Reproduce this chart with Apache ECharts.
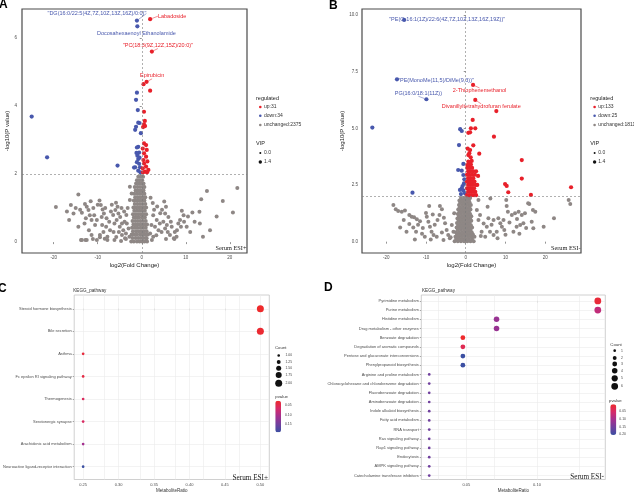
<!DOCTYPE html>
<html><head><meta charset="utf-8">
<script src="https://cdn.jsdelivr.net/npm/echarts@6/dist/echarts.min.js"></script>
<style>html,body{margin:0;padding:0;background:#fff}#c{width:634px;height:494px}</style>
</head><body><div id="c"></div><script>
// ---------------- DATA ----------------
const volTicksX = [-20, -10, 0, 10, 20];
const aTicksY = [0, 2, 4, 6];
const bTicksY = [0, 2.5, 5, 7.5, 10];
const aLegend = ['up:31', 'down:34', 'unchanged:2375'];
const bLegend = ['up:133', 'down:25', 'unchanged:1811'];
const vipLegend = ['0.0', '1.4'];

// Panel A: unchanged core column (rows: y, list of x)
const aCoreRows = [
 [0.02,[-2.4,-1.8,-1.1,-0.5,0.1,0.6,1.2]],[0.12,[-2.1,-1.4,-0.8,-0.2,0.4,1.0]],
 [0.22,[-2.3,-1.7,-1.1,-0.4,0.2,0.8,1.4]],[0.32,[-2.0,-1.3,-0.7,-0.1,0.5,1.1]],
 [0.42,[-2.2,-1.6,-1.0,-0.3,0.3,0.9]],[0.52,[-1.9,-1.2,-0.6,0.0,0.6,1.2]],
 [0.62,[-2.1,-1.5,-0.9,-0.3,0.3,0.9]],[0.72,[-1.8,-1.2,-0.6,0.1,0.7]],
 [0.82,[-2.0,-1.4,-0.8,-0.2,0.4,1.0]],[0.92,[-1.7,-1.1,-0.5,0.1,0.7]],
 [1.02,[-1.9,-1.3,-0.7,-0.1,0.5,1.0]],[1.12,[-1.6,-1.0,-0.4,0.2,0.8]],
 [1.22,[-1.8,-1.2,-0.6,0.0,0.6]],[1.32,[-1.5,-0.9,-0.3,0.3,0.8]],
 [1.42,[-1.7,-1.1,-0.5,0.1,0.6]],[1.52,[-1.4,-0.8,-0.2,0.4]],
 [1.62,[-1.6,-1.0,-0.4,0.2,0.6]],[1.72,[-1.3,-0.7,-0.1,0.4]],
 [1.82,[-1.1,-0.5,0.1]],[1.92,[-0.8,-0.2,0.3]]
];
const aWings = [
 [-19.5,1.03],[-16.1,1.09],[-14.4,1.40],[-16.5,0.65],[-15.5,0.84],[-13.6,0.86],[-14.4,0.45],[-13.6,0.06],
 [-12.9,1.12],[-12.5,1.04],[-12.1,0.94],[-11.8,0.79],[-11.4,0.65],[-12.7,0.70],[-10.8,0.79],[-10.2,0.65],[-10.6,0.50],
 [-9.6,1.22],[-9.3,1.09],[-8.9,0.96],[-8.6,0.84],[-9.1,0.74],[-8.0,0.70],[-7.4,0.60],[-8.1,0.45],[-7.2,0.35],[-8.7,0.30],[-9.5,0.21],[-7.8,0.16],
 [-11.4,0.21],[-12.5,0.06],[-10.2,0.06],
 [-5.85,1.16],[-5.5,1.04],[-6.0,0.94],[-5.3,0.84],[-4.9,0.74],[-5.7,0.65],[-4.5,0.55],[-5.0,0.45],[-4.2,0.35],[-4.5,0.21],[-3.8,0.11],[-6.4,0.30],
 [-3.4,0.55],[-3.0,0.40],[-3.6,0.25],[-2.8,0.16],[-2.7,1.63],[-2.3,1.43],[-2.7,1.24],
 [-15.0,1.0],[-14.0,0.95],[-13.0,0.55],[-12.0,0.35],[-11.0,1.0],[-10.0,1.1],[-9.0,0.5],[-6.5,0.8],[-6.2,0.55],[-5.2,0.3],[-4.0,0.9],[-3.5,0.8],[-3.2,1.0],
 [-13.8,0.06],[-12.8,0.06],[-11.1,0.09],[-9.5,0.14],[-7.8,0.06],[-6.2,0.06],[-4.7,0.03],[-3.6,0.09],
 [-17.0,0.9],[-11.6,1.2],[-8.3,1.0],[-7.0,0.9],[-6.8,1.1],[-4.6,1.0],[-3.9,0.6],[-5.8,0.15],[-8.4,0.1],
 [2.6,0.79],[3.4,0.65],[4.1,0.55],[3.0,0.45],[3.8,0.35],[4.5,0.30],[5.3,0.40],[5.7,0.50],[4.9,0.60],
 [5.1,1.19],[5.5,1.04],[5.3,0.84],[6.05,0.74],[1.9,0.25],[2.6,0.16],[1.1,0.11],
 [6.4,0.21],[7.3,0.11],[7.9,0.16],[7.5,0.30],[9.1,0.92],[9.5,0.79],[8.7,0.65],[9.6,0.60],[8.3,0.55],
 [11.5,0.87],[13.1,0.89],[13.5,1.26],[14.8,1.50],[13.2,0.55],[18.4,1.21],[20.7,0.87],[21.7,1.59],[13.9,0.16],
 [10.2,0.45],[11.0,0.30],[2.2,0.5],[2.8,0.95],[3.5,1.05],[4.2,0.85],[6.8,0.45],[8.0,0.35],[2.0,1.3],
 [10.5,0.75],[12.0,0.6],[15.5,0.35],[17.0,0.75],[2.3,0.06],[5.5,0.09],[7.4,0.09],
 [2.5,1.15],[4.6,0.95],[5.9,0.3],[3.3,0.2],[8.9,0.45],[6.6,0.6]
];
const aDown = [
 [-1.1,4.39],[-1.3,4.18],[-0.9,3.88],[-0.8,3.51],[-0.5,3.50],[-1.3,3.39],[-1.5,3.30],[-0.2,3.20],
 [-25.0,3.69],[-21.5,2.49],[-5.5,2.25],
 [-0.8,2.80],[-1.1,2.78],[-0.6,2.63],[-1.0,2.54],[-0.8,2.44],[-1.1,2.35],[-0.6,2.30],[-0.4,2.20],
 [-1.5,2.20],[-0.8,2.10],[-1.75,2.19],[-0.3,2.05],[-1.2,2.62],[-0.5,2.48]
];
const aDownNamed = [[-1.1,6.51,'"DG(16:0/22:5(4Z,7Z,10Z,13Z,16Z)/0:0)"'],[-1.0,6.34,'Docosahexaenoyl Ethanolamide']];
const aUp = [
 [0.4,4.64],[1.9,4.45],[0.5,3.83],[0.7,3.56],[0.5,3.46],[0.3,3.38],[0.75,3.41],
 [0.52,2.90],[0.98,2.85],[0.22,2.75],[1.13,2.71],[0.52,2.61],[0.98,2.51],[0.37,2.41],[1.28,2.37],
 [0.52,2.31],[0.98,2.22],[0.22,2.17],[1.5,2.12],[0.75,2.07],[0.3,2.05],[1.2,2.05]
];
const aUpNamed = [[1.9,6.55,'Labadoside'],[2.3,5.6,'"PC(18:3(9Z,12Z,15Z)/20:0)"'],[1.1,4.71,'Epirubicin']];

// Panel B
const bCoreRows = [
 [0.02,[-2.8,-2.0,-1.2,-0.4,0.4,1.2,2.0]],[0.12,[-2.4,-1.6,-0.8,0.0,0.8,1.6]],
 [0.22,[-2.6,-1.8,-1.0,-0.2,0.6,1.4,2.2]],[0.32,[-2.2,-1.4,-0.6,0.2,1.0,1.8]],
 [0.42,[-2.5,-1.7,-0.9,-0.1,0.7,1.5]],[0.52,[-2.0,-1.2,-0.4,0.4,1.2]],
 [0.62,[-2.3,-1.5,-0.7,0.1,0.9,1.6]],[0.72,[-1.9,-1.1,-0.3,0.5,1.3]],
 [0.82,[-2.2,-1.4,-0.6,0.2,1.0]],[0.92,[-1.8,-1.0,-0.2,0.6,1.4]],
 [1.02,[-2.1,-1.3,-0.5,0.3,1.1]],[1.12,[-1.7,-0.9,-0.1,0.7,1.4]],
 [1.22,[-2.0,-1.2,-0.4,0.4,1.1]],[1.32,[-1.6,-0.8,0.0,0.8]],
 [1.42,[-1.9,-1.1,-0.3,0.5,1.2]],[1.52,[-1.5,-0.7,0.1,0.9]],
 [1.62,[-1.7,-0.9,-0.1,0.7,1.3]],[1.72,[-1.4,-0.6,0.2,1.0]],
 [1.82,[-1.6,-0.8,0.0,0.8]],[1.92,[-1.2,-0.4,0.4,1.1]]
];
const bWings = [
 [-18.2,1.62],[-17.6,1.43],[-17.0,1.35],[-16.1,1.32],[-15.3,1.37],[-16.5,0.62],[-14.2,1.18],[-13.6,1.10],
 [-13.0,1.08],[-12.3,0.99],[-14.2,0.78],[-13.2,0.63],[-12.5,0.44],[-12.8,0.10],[-14.9,0.44],
 [-9.2,1.57],[-9.8,1.10],[-9.4,0.88],[-9.0,0.66],[-8.6,0.44],[-8.1,0.29],[-10.3,0.22],[-8.8,0.10],
 [-6.5,1.57],[-6.0,1.43],[-6.6,1.18],[-7.1,0.96],[-5.2,0.81],[-4.8,0.51],[-4.4,0.29],[-4.0,0.15],
 [-5.6,0.07],[-7.3,0.22],[-2.9,1.25],[-3.5,0.74],[-3.1,0.44],[-11.5,0.9],[-10.8,0.6],[-10.0,1.26],
 [-11.0,0.35],[-7.8,0.75],[-6.0,0.4],[-15.6,0.95],[-12.0,0.75],[-8.3,1.2],[-5.5,1.05],[-3.8,0.2],
 [3.2,1.84],[2.8,1.40],[3.6,1.18],[3.2,0.96],[5.5,1.54],[5.7,1.03],[5.3,0.66],[6.1,0.44],[4.9,0.22],
 [4.0,0.44],[7.0,0.29],[7.8,0.44],[8.2,1.03],[8.7,0.81],[9.1,0.66],[9.7,0.51],[10.2,1.84],[10.3,1.57],
 [10.6,1.32],[11.6,1.18],[12.4,1.25],[13.3,1.32],[14.1,1.18],[14.9,1.25],[12.8,0.66],[13.7,0.73],
 [14.5,0.81],[12.0,0.44],[16.0,1.66],[16.9,1.40],[17.5,1.32],[16.6,0.88],[17.0,0.59],[22.2,1.03],
 [19.6,0.66],[25.9,1.84],[26.3,1.66],[9.5,0.96],[7.0,0.96],[6.2,1.9],[15.7,1.69],[11.0,0.85],
 [6.5,0.75],[3.8,0.25],[8.0,0.15],[13.5,0.35],[4.5,0.8],[10.0,0.3],[15.2,0.6],[12.9,1.0]
];
const bDown = [
 [-23.5,5.03],[-1.4,4.96],[-1.0,4.88],[-1.7,4.26],[-0.6,3.43],[-1.9,3.16],[-1.0,3.13],[-0.6,2.94],
 [-0.35,2.75],[-0.45,2.57],[-1.0,2.35],[-1.45,2.28],[-0.6,2.25],[-0.2,2.13],[-13.4,2.16],[-1.2,2.1],[-0.8,2.45]
];
const bDownNamed = [[-15.5,9.78,'"PE(O-16:1(1Z)/22:6(4Z,7Z,10Z,13Z,16Z,19Z))"'],[-17.3,7.16,'"PE(MonoMe(11,5)/DiMe(9,3))"'],[-9.9,6.28,'PG(16:0/18:1(11Z))']];
const bUpRows = [
 [2.05,[0.3,0.9,1.5,2.1,2.6]],[2.2,[0.6,1.2,1.8,2.4]],[2.35,[0.3,0.9,1.5,2.1]],
 [2.5,[0.6,1.2,1.8,2.5]],[2.65,[0.3,0.9,1.5,2.2]],[2.8,[0.6,1.2,1.9]],
 [2.95,[0.3,0.9,1.6,2.3]],[3.1,[0.6,1.2,1.9]],[3.25,[0.4,1.0,1.6]],[3.4,[0.7,1.3]]
];
const bUp = [
 [7.7,5.76],[1.75,5.37],[2.4,5.0],[0.65,4.8],[1.1,4.82],[1.3,5.0],[7.1,4.63],[1.9,4.25],[0.5,4.1],
 [3.4,3.88],[1.1,4.04],[0.9,3.9],[0.65,3.82],[1.25,3.72],[0.65,3.53],[1.1,3.48],[1.5,3.56],[0.4,3.38],
 [14.1,3.6],[14.1,2.78],[9.9,2.54],[10.3,2.46],[10.7,2.18],[16.4,2.06],[26.5,2.4],[3.1,2.9],[2.9,2.5],[2.6,3.1]
];
const bUpNamed = [[1.84,6.91,'2-Thiophenemethanol'],[2.4,6.25,'Divanillyltetrahydrofuran ferulate']];

// Panel C
const cCats = ['Steroid hormone biosynthesis','Bile secretion','Asthma','Fc epsilon RI signaling pathway',
 'Thermogenesis','Serotonergic synapse','Arachidonic acid metabolism','Neuroactive ligand-receptor interaction'];
const cRatio = [0.5,0.5,0.25,0.25,0.25,0.25,0.25,0.25];
const cCount = [2,2,1,1,1,1,1,1];
const cPvalue = [0.025,0.03,0.037,0.042,0.059,0.062,0.11,0.195];
const cTicksX = [0.25,0.30,0.35,0.40,0.45,0.50];
const cGridX = [0.25,0.275,0.30,0.325,0.35,0.375,0.40,0.425,0.45,0.475,0.50];
const cCountLegend = [1.00,1.25,1.50,1.75,2.00];
const cPvalTicks = [0.05,0.10,0.15];

// Panel D
const dCats = ['Pyrimidine metabolism','Purine metabolism','Histidine metabolism','Drug metabolism - other enzymes',
 'Benzoate degradation','Degradation of aromatic compounds','Pentose and glucuronate interconversions',
 'Phenylpropanoid biosynthesis','Arginine and proline metabolism','Chlorocyclohexane and chlorobenzene degradation',
 'Fluorobenzoate degradation','Aminobenzoate degradation','Indole alkaloid biosynthesis','Fatty acid metabolism',
 'RNA transport','Ras signaling pathway','Rap1 signaling pathway','Endocytosis','AMPK signaling pathway',
 'Catecholamine transferase inhibitors'];
const dRatio = [0.143,0.143,0.0714,0.0714,0.0476,0.0476,0.0476,0.0476,0.0238,0.0238,0.0238,0.0238,0.0238,0.0238,0.0238,0.0238,0.0238,0.0238,0.0238,0.0238];
const dCount = [6,6,4,4,3,3,3,3,1,1,1,1,1,1,1,1,1,1,1,1];
const dPvalue = [0.015,0.075,0.115,0.115,0.005,0.035,0.205,0.205,0.155,0.155,0.155,0.155,0.155,0.155,0.155,0.155,0.155,0.155,0.155,0.155];
const dTicksX = [0.05,0.10];
const dGridX = [0.025,0.05,0.075,0.10,0.125];
const dCountLegend = [1,2,3,4,5,6];
const dPvalTicks = [0.05,0.10,0.15,0.20];

// ---------------- STYLE ----------------
const RED = '#e8202a', BLUE = '#4858ad', GRAY = '#8e8785';
const FONT = '"Liberation Sans", Arial, sans-serif';
const SERIF = '"Liberation Serif", "DejaVu Serif", serif';
const GRAD = ['#ee2a2b', '#d62a6a', '#a3308f', '#70409e', '#3b4fa2'];
const labelShift = {
 '"DG(16:0/22:5(4Z,7Z,10Z,13Z,16Z)/0:0)"': [-40, -7],
 'Docosahexaenoyl Ethanolamide': [-1, 7],
 'Labadoside': [22, -3],
 '"PC(18:3(9Z,12Z,15Z)/20:0)"': [6, -6],
 'Epirubicin': [5.5, -6],
 '"PE(O-16:1(1Z)/22:6(4Z,7Z,10Z,13Z,16Z,19Z))"': [43, 0],
 '"PE(MonoMe(11,5)/DiMe(9,3))"': [39, 1],
 'PG(16:0/18:1(11Z))': [-8, -6],
 '2-Thiophenemethanol': [6.5, 6],
 'Divanillyltetrahydrofuran ferulate': [6, 7]
};
const noLine = ['Docosahexaenoyl Ethanolamide', '"PE(O-16:1(1Z)/22:6(4Z,7Z,10Z,13Z,16Z,19Z))"', '"PE(MonoMe(11,5)/DiMe(9,3))"'];

const rowsToPts = rows => rows.flatMap(r => r[1].map(x => [x, r[0]]));

function colored(name, xi, pts, named, color) {
  const data = named.map(p => ({
    value: [p[0], p[1]], name: p[2],
    label: { show: true, formatter: p[2], color: color, fontSize: 5.5, fontFamily: FONT, position: 'inside' },
    labelLine: { show: noLine.indexOf(p[2]) < 0, lineStyle: { color: color, width: 0.5 } }
  })).concat(pts.map(p => ({ value: p })));
  return {
    type: 'scatter', name: name, xAxisIndex: xi, yAxisIndex: xi, symbolSize: 4.2, z: 4,
    itemStyle: { color: color, opacity: 1 }, data: data, silent: true,
    labelLayout: (prm) => { const it = data[prm.dataIndex]; const s = it && it.name && labelShift[it.name]; return s ? { dx: s[0], dy: s[1] } : {}; }
  };
}

function volcanoAxes(gi, xmin, xmax, ymin, ymax, yticks, yfmt, yGap, yMargin) {
  const tickStyle = { color: '#4d4d4d', width: 0.6 };
  return {
    x: { type: 'value', gridIndex: gi, min: xmin, max: xmax, axisLine: { show: false }, splitLine: { show: false },
      axisTick: { show: true, length: 2, customValues: volTicksX, lineStyle: tickStyle },
      axisLabel: { customValues: volTicksX, fontSize: 4.5, color: '#4d4d4d', margin: 2.5, fontFamily: FONT },
      name: 'log2(Fold Change)', nameLocation: 'middle', nameGap: 9, nameTextStyle: { fontSize: 6, color: '#1a1a1a', fontFamily: FONT } },
    y: { type: 'value', gridIndex: gi, min: ymin, max: ymax, axisLine: { show: false }, splitLine: { show: false },
      axisTick: { show: true, length: 2, customValues: yticks, lineStyle: tickStyle },
      axisLabel: { customValues: yticks, fontSize: 4.5, color: '#4d4d4d', margin: yMargin, fontFamily: FONT, formatter: yfmt },
      name: '-log10(P value)', nameLocation: 'middle', nameGap: yGap, nameRotate: 90, nameTextStyle: { fontSize: 6, color: '#1a1a1a', fontFamily: FONT } }
  };
}
const vA = volcanoAxes(0, -27.2, 23.9, -0.32, 6.85, aTicksY, v => String(v), 6, 5);
const vB = volcanoAxes(1, -26.1, 29.0, -0.5, 10.26, bTicksY, v => v.toFixed(1), 11, 4);

function pathAxes(gi, xmin, xmax, xticks, cats, ymin, ymax) {
  const idx = cats.map((_, i) => i);
  return {
    x: { type: 'value', gridIndex: gi, min: xmin, max: xmax, axisLine: { show: false }, splitLine: { show: false },
      axisTick: { show: true, length: 1.5, customValues: xticks, lineStyle: { color: '#555', width: 0.5 } },
      axisLabel: { customValues: xticks, fontSize: 4, color: '#4d4d4d', margin: 3, fontFamily: FONT, formatter: v => v.toFixed(2) },
      name: 'MetaboliteRatio', nameLocation: 'middle', nameGap: 8.5, nameTextStyle: { fontSize: 4.5, color: '#333', fontFamily: FONT } },
    y: { type: 'value', gridIndex: gi, inverse: true, min: ymin, max: ymax, axisLine: { show: false }, splitLine: { show: false },
      axisTick: { show: true, length: 1.5, customValues: idx, lineStyle: { color: '#555', width: 0.5 } },
      axisLabel: { customValues: idx, fontSize: 4, color: '#4d4d4d', margin: 2.5, fontFamily: FONT, formatter: v => cats[Math.round(v)] } }
  };
}
const pC = pathAxes(2, 0.2374, 0.5126, cTicksX, cCats, -0.61, 7.57);
const pD = pathAxes(3, 0.0182, 0.1483, dTicksX, dCats, -0.64, 19.43);

const sizeC = c => 2.7 + (7.0 - 2.7) * (Math.sqrt(c) - 1) / (Math.sqrt(2) - 1);
const sizeD = c => 2.7 + (6.8 - 2.7) * (Math.sqrt(c) - 1) / (Math.sqrt(6) - 1);

function pathSeries(gi, cats, ratio, pval, count, gridX, sizeFn) {
  return {
    type: 'scatter', xAxisIndex: gi, yAxisIndex: gi, z: 4, silent: true,
    itemStyle: { opacity: 1 },
    data: cats.map((c, i) => [ratio[i], i, pval[i], count[i]]),
    symbolSize: v => sizeFn(v[3]),
    markLine: { silent: true, symbol: 'none', z: 1, label: { show: false },
      lineStyle: { color: '#ebebeb', width: 0.6, type: 'solid' },
      data: gridX.map(v => ({ xAxis: v })).concat(cats.map((_, i) => ({ yAxis: i }))) }
  };
}

const dashed = { silent: true, symbol: 'none', label: { show: false }, lineStyle: { color: '#7a7a7a', width: 0.6, type: [2, 2] }, data: [{ yAxis: 2 }, { xAxis: 0 }] };

// ---------------- GRAPHIC ----------------
const G = [];
function txt(x, y, t, size, opt) {
  opt = opt || {};
  G.push({ type: 'text', z: 50, silent: true, style: { x: x, y: y, text: t, fill: opt.color || '#333', font: (opt.bold ? 'bold ' : '') + size + 'px ' + (opt.family || FONT),
    textAlign: opt.align || 'left', textVerticalAlign: 'middle', align: opt.align || 'left', verticalAlign: 'middle' } });
}
function dot(x, y, d, color) { G.push({ type: 'circle', z: 50, silent: true, shape: { cx: x, cy: y, r: d / 2 }, style: { fill: color } }); }

// panel letters
txt(-1, 5, 'A', 12, { bold: true, color: '#000' });
txt(329, 6, 'B', 12, { bold: true, color: '#000' });
txt(-2, 289, 'C', 12, { bold: true, color: '#000' });
txt(324, 288, 'D', 12, { bold: true, color: '#000' });

// volcano legends
function volLegend(x0, labels) {
  const cols = [RED, BLUE, GRAY];
  const ys = [107, 115.7, 125];
  txt(x0, 98, 'regulated', 5.5, { color: '#222' });
  labels.forEach((l, i) => { dot(x0 + 4.3, ys[i], 2.6, cols[i]); txt(x0 + 8, ys[i], l, 5, { color: '#333' }); });
  txt(x0, 143, 'VIP', 5.5, { color: '#222' });
  const vs = [153, 162], ds = [2.0, 3.4];
  vipLegend.forEach((l, i) => { dot(x0 + 4.3, vs[i], ds[i], '#111'); txt(x0 + 8, vs[i], l, 5, { color: '#333' }); });
}
volLegend(256, aLegend);
volLegend(590.3, bLegend);

txt(246.5, 248.5, 'Serum ESI+', 6.3, { align: 'right', family: SERIF, color: '#222' });
txt(580.5, 248, 'Serum ESI-', 6.3, { align: 'right', family: SERIF, color: '#222' });
txt(268, 478, 'Serum ESI+', 7.2, { align: 'right', family: SERIF, color: '#222' });
txt(604, 477, 'Serum ESI-', 7.2, { align: 'right', family: SERIF, color: '#222' });

txt(73.3, 291, 'KEGG_pathway', 4.6, { color: '#333' });
txt(422, 291, 'KEGG_pathway', 4.6, { color: '#333' });

// count legends
txt(275, 348, 'Count', 4.3, { color: '#333' });
const cLegY = [355.5, 362, 368.3, 375, 383.3];
cCountLegend.forEach((c, i) => { dot(278.7, cLegY[i], sizeC(c), '#111'); txt(285.5, cLegY[i], c.toFixed(2), 3.4, { color: '#444' }); });
txt(610.3, 345, 'Count', 4.3, { color: '#333' });
const dLegY = [350.7, 358, 364, 370.7, 378.3, 386.3];
dCountLegend.forEach((c, i) => { dot(614.7, dLegY[i], sizeD(c), '#111'); txt(621, dLegY[i], String(c), 3.4, { color: '#444' }); });

// colorbars
const vmC = { min: 0.025, max: 0.195, left: 275.3, top: 400.7, w: 5.7, h: 31.6 };
const vmD = { min: 0.004, max: 0.205, left: 610.3, top: 404.3, w: 6, h: 30.7 };
txt(275.3, 397, 'pvalue', 4.3, { color: '#333' });
txt(609, 400.7, 'pvalue', 4.3, { color: '#333' });
cPvalTicks.forEach(v => txt(vmC.left + vmC.w + 4, vmC.top + (v - vmC.min) / (vmC.max - vmC.min) * vmC.h, v.toFixed(2), 3.4, { color: '#444' }));
dPvalTicks.forEach(v => txt(vmD.left + vmD.w + 3, vmD.top + (v - vmD.min) / (vmD.max - vmD.min) * vmD.h, v.toFixed(2), 3.4, { color: '#444' }));

function vm(cfg, si) {
  return { type: 'continuous', seriesIndex: si, dimension: 2, min: cfg.min, max: cfg.max, inverse: true,
    left: cfg.left, top: cfg.top, itemWidth: cfg.w, itemHeight: cfg.h, padding: 0, calculable: false,
    text: null, showLabel: false, hoverLink: false, inRange: { color: GRAD } };
}

const option = {
  animation: false,
  backgroundColor: '#fff',
  textStyle: { fontFamily: FONT },
  grid: [
    { left: 22, top: 9, width: 225, height: 244, show: true, borderColor: '#4a4a4a', borderWidth: 1.2, backgroundColor: '#fff' },
    { left: 362, top: 9, width: 219, height: 244, show: true, borderColor: '#4a4a4a', borderWidth: 1.2, backgroundColor: '#fff' },
    { left: 73.3, top: 295, width: 196, height: 187.3, show: true, borderColor: '#c4c4c4', borderWidth: 0.8, backgroundColor: '#fff' },
    { left: 421.3, top: 295, width: 184, height: 187.3, show: true, borderColor: '#c4c4c4', borderWidth: 0.8, backgroundColor: '#fff' }
  ],
  xAxis: [vA.x, vB.x, pC.x, pD.x],
  yAxis: [vA.y, vB.y, pC.y, pD.y],
  visualMap: [vm(vmC, 6), vm(vmD, 7)],
  series: [
    { type: 'scatter', name: aLegend[2], xAxisIndex: 0, yAxisIndex: 0, symbolSize: 4, z: 3, silent: true,
      itemStyle: { color: GRAY, opacity: 1 }, data: rowsToPts(aCoreRows).concat(aWings), markLine: dashed },
    colored(aLegend[1], 0, aDown, aDownNamed, BLUE),
    colored(aLegend[0], 0, aUp, aUpNamed, RED),
    { type: 'scatter', name: bLegend[2], xAxisIndex: 1, yAxisIndex: 1, symbolSize: 4, z: 3, silent: true,
      itemStyle: { color: GRAY, opacity: 1 }, data: rowsToPts(bCoreRows).concat(bWings), markLine: dashed },
    colored(bLegend[1], 1, bDown, bDownNamed, BLUE),
    colored(bLegend[0], 1, rowsToPts(bUpRows).concat(bUp), bUpNamed, RED),
    pathSeries(2, cCats, cRatio, cPvalue, cCount, cGridX, sizeC),
    pathSeries(3, dCats, dRatio, dPvalue, dCount, dGridX, sizeD)
  ],
  graphic: G
};
const chart = echarts.init(document.getElementById('c'), null, { renderer: 'canvas' });
chart.setOption(option);
</script></body></html>
